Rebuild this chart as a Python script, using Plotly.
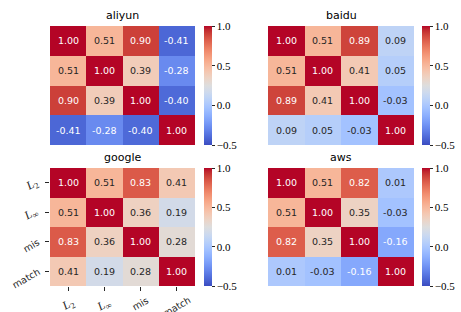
import plotly.graph_objects as go

# ---------------- data ----------------
titles = ["aliyun", "baidu", "google", "aws"]
labels = ["<i>L</i><sub>2</sub>", "<i>L</i><sub>∞</sub>", "mis", "match"]

aliyun = [[1.00, 0.51, 0.90, -0.41],
          [0.51, 1.00, 0.39, -0.28],
          [0.90, 0.39, 1.00, -0.40],
          [-0.41, -0.28, -0.40, 1.00]]
baidu = [[1.00, 0.51, 0.89, 0.09],
         [0.51, 1.00, 0.41, 0.05],
         [0.89, 0.41, 1.00, -0.03],
         [0.09, 0.05, -0.03, 1.00]]
google = [[1.00, 0.51, 0.83, 0.41],
          [0.51, 1.00, 0.36, 0.19],
          [0.83, 0.36, 1.00, 0.28],
          [0.41, 0.19, 0.28, 1.00]]
aws = [[1.00, 0.51, 0.82, 0.01],
       [0.51, 1.00, 0.35, -0.03],
       [0.82, 0.35, 1.00, -0.16],
       [0.01, -0.03, -0.16, 1.00]]
matrices = [aliyun, baidu, google, aws]

cbar_tickvals = [-0.5, 0.0, 0.5, 1.0]
cbar_ticktext = ["\u22120.5", "0.0", "0.5", "1.0"]
vmin, vmax = -0.5, 1.0

# ---------------- style ----------------
W, H = 461, 312
coolwarm_rgb = [
    (59, 76, 192), (68, 90, 204), (77, 104, 215), (87, 117, 225), (98, 130, 234),
    (108, 142, 241), (119, 154, 247), (130, 165, 251), (141, 176, 254), (152, 185, 255),
    (163, 194, 255), (174, 201, 253), (184, 208, 249), (194, 213, 244), (204, 217, 238),
    (213, 219, 230), (221, 221, 221), (229, 216, 209), (236, 211, 197), (241, 204, 185),
    (245, 196, 173), (247, 187, 160), (247, 177, 148), (247, 166, 135), (244, 154, 123),
    (241, 141, 111), (236, 127, 99), (229, 112, 88), (222, 96, 77), (213, 80, 66),
    (203, 62, 56), (192, 40, 47), (180, 4, 38)]
n = len(coolwarm_rgb) - 1
colorscale = [[i / n, "rgb(%d,%d,%d)" % c] for i, c in enumerate(coolwarm_rgb)]


def cmap(v):
    t = (v - vmin) / (vmax - vmin)
    t = min(max(t, 0.0), 1.0) * n
    i = min(int(t), n - 1)
    f = t - i
    a, b = coolwarm_rgb[i], coolwarm_rgb[i + 1]
    return [a[k] + (b[k] - a[k]) * f for k in range(3)]


def luminance(rgb):
    out = []
    for c in rgb:
        c = c / 255.0
        out.append(c / 12.92 if c <= 0.03928 else ((c + 0.055) / 1.055) ** 2.4)
    return 0.2126 * out[0] + 0.7152 * out[1] + 0.0722 * out[2]


# panel boxes in pixels: x0, x1, y0, y1
boxes = [(50, 195, 26, 145), (268, 414, 26, 145), (50, 195, 168, 286), (268, 414, 168, 286)]
cbar_left = [204, 422, 204, 422]
SANS = "DejaVu Sans"
SERIF = "Liberation Serif"
DARK = "#262626"

fig = go.Figure()
annotations = []
layout = {}
for k, (mat, title) in enumerate(zip(matrices, titles)):
    idx = "" if k == 0 else str(k + 1)
    x0, x1, y0, y1 = boxes[k]
    fig.add_trace(go.Heatmap(
        z=mat, x=list(range(4)), y=list(range(4)),
        xaxis="x" + idx, yaxis="y" + idx,
        colorscale=colorscale, zmin=vmin, zmax=vmax, hoverinfo="skip",
        colorbar=dict(
            x=cbar_left[k] / W, xanchor="left", xpad=0, ypad=0,
            y=1 - (y0 + y1) / 2 / H, yanchor="middle",
            len=(y1 - y0) / H, lenmode="fraction", thickness=8,
            outlinewidth=0, tickvals=cbar_tickvals, ticktext=cbar_ticktext,
            ticks="outside", ticklen=3, tickwidth=1, tickcolor=DARK,
            tickfont=dict(family=SERIF, size=11, color="black"),
        ),
    ))
    bottom_left = (k == 2)
    layout["xaxis" + idx] = dict(
        domain=[x0 / W, x1 / W], range=[-0.5, 3.5], anchor="y" + idx,
        showgrid=False, zeroline=False, showticklabels=False,
        tickvals=list(range(4)), ticks="outside" if bottom_left else "",
        ticklen=4, tickwidth=1, tickcolor=DARK, fixedrange=True)
    layout["yaxis" + idx] = dict(
        domain=[1 - y1 / H, 1 - y0 / H], range=[3.5, -0.5], anchor="x" + idx,
        showgrid=False, zeroline=False, showticklabels=False,
        tickvals=list(range(4)), ticks="outside" if bottom_left else "",
        ticklen=4, tickwidth=1, tickcolor=DARK, fixedrange=True)
    # title
    annotations.append(dict(
        text=title, x=(x0 + x1) / 2 / W, y=1 - (y0 - 11) / H, xref="paper", yref="paper",
        xanchor="center", yanchor="middle", showarrow=False,
        font=dict(family=SANS, size=11, color="black")))
    # cell values
    for i, row in enumerate(mat):
        for j, v in enumerate(row):
            col = DARK if luminance(cmap(v)) > 0.408 else "white"
            annotations.append(dict(
                text="%.2f" % v, x=j, y=i, xref="x" + idx, yref="y" + idx,
                showarrow=False, xanchor="center", yanchor="middle",
                font=dict(family=SANS, size=9.5, color=col)))
    if bottom_left:
        ydrop = [2, 2, 4, 7]
        for j, lab in enumerate(labels):
            fam = SERIF if lab.startswith("<i>") else SANS
            sz = 12 if lab.startswith("<i>") else 9.5
            annotations.append(dict(
                text=lab, x=j, y=1 - y1 / H, xref="x" + idx, yref="paper",
                xanchor="center", yanchor="top", yshift=-6, textangle=-30,
                showarrow=False, font=dict(family=fam, size=sz, color=DARK)))
            annotations.append(dict(
                text=lab, x=x0 / W, y=j, xref="paper", yref="y" + idx,
                xanchor="right", yanchor="middle", xshift=-6, yshift=-ydrop[j],
                textangle=-30, showarrow=False, font=dict(family=fam, size=sz, color=DARK)))

fig.update_layout(**layout)
fig.update_layout(
    width=W, height=H, margin=dict(l=0, r=0, t=0, b=0),
    paper_bgcolor="white", plot_bgcolor="white", showlegend=False,
    annotations=annotations)
fig.write_html("out.html", config={"displayModeBar": False},
               post_script="document.body.style.margin='0px';document.body.style.overflow='hidden';")
